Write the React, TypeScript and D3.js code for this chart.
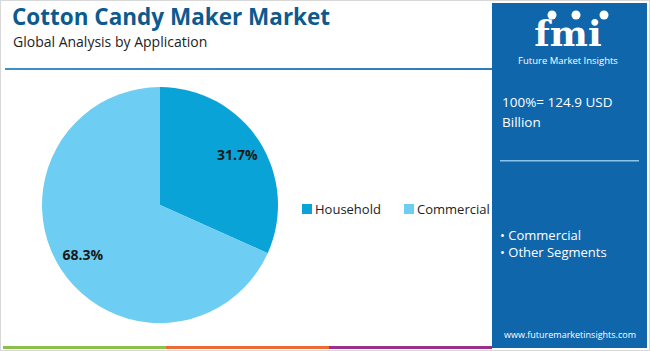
import React, { useEffect, useRef } from 'react';
import * as d3 from 'd3';

const segments = ['Household', 'Commercial'];
const shares = [31.7, 68.3];
const sliceColors = ['#0aa3d8', '#6dcdf2'];
const panelBullets = ['Commercial', 'Other Segments'];
const totalLabel = ['100%= 124.9 USD', 'Billion'];
const bottomBar = ['#8cc04a', '#ee6a35', '#9b2f8c'];

const W = 650;
const H = 351;

const App: React.FC = () => {
	const ref = useRef<SVGSVGElement>(null);

	useEffect(() => {
		if (!ref.current) return;
		const svg = d3.select(ref.current);
		svg.selectAll('*').remove();

		const font = "'Open Sans', 'Noto Sans', sans-serif";

		// frame
		svg
			.append('rect')
			.attr('x', 0.5)
			.attr('y', 0.5)
			.attr('width', W - 1)
			.attr('height', H - 1)
			.attr('fill', '#fff')
			.attr('stroke', '#d8d8d8');

		// title
		svg
			.append('text')
			.attr('x', 12)
			.attr('y', 25)
			.attr('font-family', font)
			.attr('font-weight', 700)
			.attr('font-size', 22.5)
			.attr('fill', '#0d5b8e')
			.text('Cotton Candy Maker Market');
		svg
			.append('text')
			.attr('x', 13)
			.attr('y', 47)
			.attr('font-family', font)
			.attr('font-size', 14)
			.attr('fill', '#222')
			.text('Global Analysis by Application');

		const grad = svg
			.append('defs')
			.append('linearGradient')
			.attr('id', 'rule')
			.attr('x1', '0%')
			.attr('x2', '100%');
		grad.append('stop').attr('offset', '0%').attr('stop-color', '#3f8fc9');
		grad.append('stop').attr('offset', '100%').attr('stop-color', '#2a7cc0');
		svg
			.append('rect')
			.attr('x', 5)
			.attr('y', 68)
			.attr('width', 488)
			.attr('height', 2)
			.attr('fill', 'url(#rule)');

		// --- Pie ---
		const cx = 160;
		const cy = 205;
		const r = 118;
		const pie = d3
			.pie<number>()
			.sort(null)
			.value((d) => d);
		const arcs = pie(shares);
		const arc = d3.arc<d3.PieArcDatum<number>>().innerRadius(0).outerRadius(r);
		const g = svg.append('g').attr('transform', `translate(${cx},${cy})`);
		g.selectAll('path')
			.data(arcs)
			.enter()
			.append('path')
			.attr('d', arc)
			.attr('fill', (d, i) => sliceColors[i]);

		const labelArc = d3
			.arc<d3.PieArcDatum<number>>()
			.innerRadius(r * 0.78)
			.outerRadius(r * 0.78);
		g.selectAll('text.pct')
			.data(arcs)
			.enter()
			.append('text')
			.attr('class', 'pct')
			.attr('transform', (d) => {
				const [x, y] = labelArc.centroid(d);
				return `translate(${x},${y})`;
			})
			.attr('text-anchor', 'middle')
			.attr('dy', '0.35em')
			.attr('font-family', font)
			.attr('font-weight', 700)
			.attr('font-size', 14)
			.attr('fill', '#1a1a1a')
			.text((d) => `${d.data.toFixed(1)}%`);

		// --- Legend ---
		const legendX = [302, 404];
		const legend = svg
			.selectAll('g.legend')
			.data(segments)
			.enter()
			.append('g')
			.attr('class', 'legend')
			.attr('transform', (d, i) => `translate(${legendX[i]},204)`);
		legend
			.append('rect')
			.attr('width', 10)
			.attr('height', 10)
			.attr('fill', (d, i) => sliceColors[i]);
		legend
			.append('text')
			.attr('x', 13)
			.attr('y', 10)
			.attr('font-family', font)
			.attr('font-size', 13)
			.attr('fill', '#222')
			.text((d) => d);

		// --- Right panel ---
		svg
			.append('rect')
			.attr('x', 492)
			.attr('y', 3)
			.attr('width', 155)
			.attr('height', 345)
			.attr('fill', '#1066ab');

		// logo
		svg
			.append('text')
			.attr('x', 568)
			.attr('y', 46)
			.attr('text-anchor', 'middle')
			.attr('font-family', "'DejaVu Serif', serif")
			.attr('font-weight', 700)
			.attr('font-size', 36)
			.attr('fill', '#fff')
			.text('fmi');
		[552, 576, 604].forEach((x) => {
			svg
				.append('circle')
				.attr('cx', x)
				.attr('cy', 15)
				.attr('r', 4.5)
				.attr('fill', '#fff');
		});
		svg
			.append('text')
			.attr('x', 568)
			.attr('y', 64)
			.attr('text-anchor', 'middle')
			.attr('font-family', font)
			.attr('font-size', 9.5)
			.attr('fill', '#fff')
			.text('Future Market Insights');

		svg
			.selectAll('text.total')
			.data(totalLabel)
			.enter()
			.append('text')
			.attr('class', 'total')
			.attr('x', 502)
			.attr('y', (d, i) => 107 + i * 20)
			.attr('font-family', font)
			.attr('font-size', 13.5)
			.attr('fill', '#fff')
			.text((d) => d);

		svg
			.append('rect')
			.attr('x', 500)
			.attr('y', 160)
			.attr('width', 139)
			.attr('height', 1.5)
			.attr('fill', '#8ec3ec');

		svg
			.selectAll('text.bullet')
			.data(panelBullets)
			.enter()
			.append('text')
			.attr('class', 'bullet')
			.attr('x', 500)
			.attr('y', (d, i) => 240 + i * 17)
			.attr('font-family', font)
			.attr('font-size', 13)
			.attr('fill', '#fff')
			.text((d) => `\u2022 ${d}`);

		svg
			.append('text')
			.attr('x', 570)
			.attr('y', 338)
			.attr('text-anchor', 'middle')
			.attr('font-family', font)
			.attr('font-size', 9)
			.attr('fill', '#fff')
			.text('www.futuremarketinsights.com');

		// bottom colour bar
		const bw = (492 - 3) / bottomBar.length;
		svg
			.selectAll('rect.bar')
			.data(bottomBar)
			.enter()
			.append('rect')
			.attr('class', 'bar')
			.attr('x', (d, i) => 3 + i * bw)
			.attr('y', 346)
			.attr('width', bw)
			.attr('height', 3)
			.attr('fill', (d) => d);
	}, []);

	return (
		<svg
			ref={ref}
			width={W}
			height={H}
			style={{ position: 'absolute', left: 0, top: 0 }}
		/>
	);
};

export default App;
